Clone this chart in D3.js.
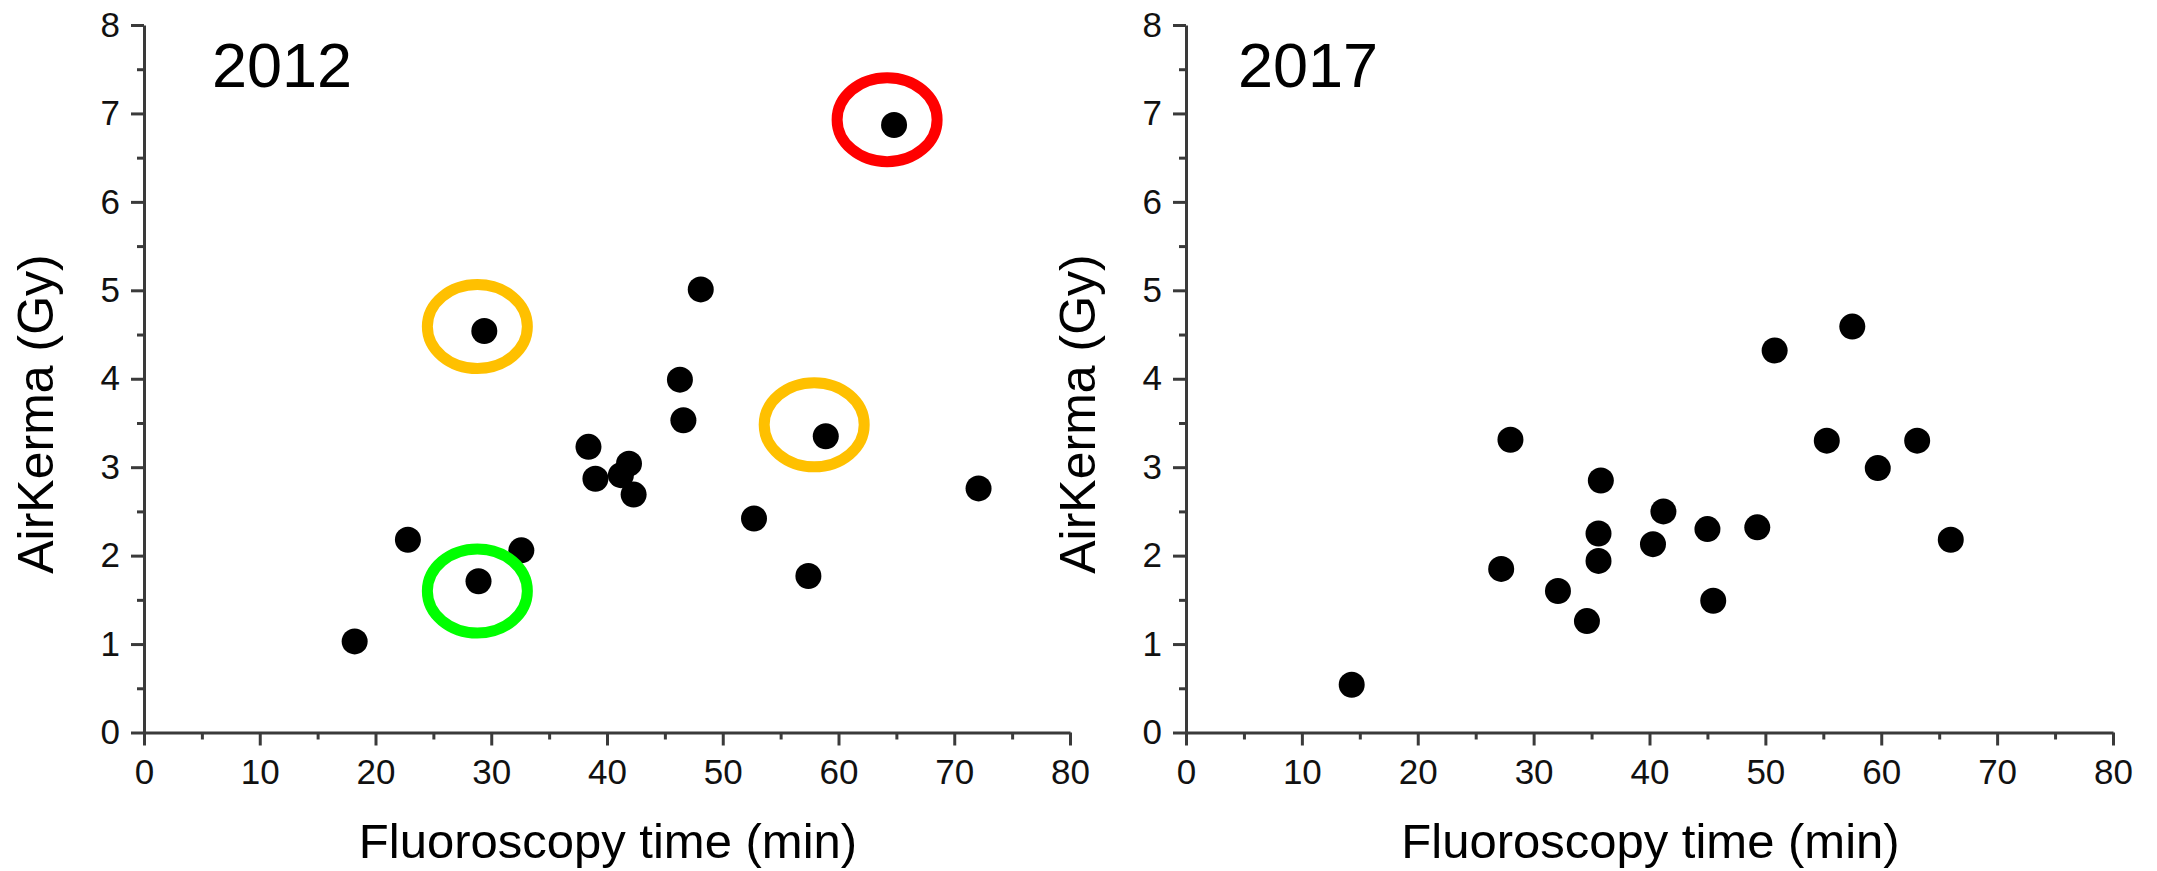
<!DOCTYPE html>
<html>
<head>
<meta charset="utf-8">
<script src="https://cdn.jsdelivr.net/npm/d3@7"></script>
<style>
  body { margin: 0; background: #fff; }
  svg { display: block; font-family: "Liberation Sans", Arial, sans-serif; }
  .axis path, .axis line { stroke: #3a3a3a; stroke-width: 3; }
</style>
</head>
<body>
<svg width="2157" height="871"></svg>
<script>
// 2012 cohort
var time2012  = [18.2, 22.8, 28.9, 29.4, 32.6, 38.4, 39.0, 41.2, 41.9, 42.3, 46.3, 46.6, 48.1, 52.7, 57.4, 58.9, 64.8, 72.1];
var kerma2012 = [1.03, 2.18, 1.71, 4.54, 2.06, 3.23, 2.87, 2.91, 3.04, 2.69, 3.99, 3.53, 5.01, 2.42, 1.77, 3.35, 6.87, 2.76];

// 2017 cohort
var time2017  = [14.3, 27.2, 28.0, 32.1, 34.6, 35.6, 35.6, 35.8, 40.3, 41.2, 45.0, 45.5, 49.3, 50.8, 55.3, 57.5, 59.7, 63.1, 66.0];
var kerma2017 = [0.54, 1.85, 3.31, 1.60, 1.26, 1.94, 2.25, 2.85, 2.13, 2.50, 2.30, 1.49, 2.32, 4.32, 3.30, 4.59, 2.99, 3.30, 2.18];

// circled cases in 2012
var markTime  = [28.8, 57.9, 28.8, 64.2];
var markKerma = [4.59, 3.48, 1.60, 6.93];
var markLevel = ["medium", "medium", "low", "high"];

var xTicks = [0, 10, 20, 30, 40, 50, 60, 70, 80];
var xMinor = [5, 15, 25, 35, 45, 55, 65, 75];
var yTicks = [0, 1, 2, 3, 4, 5, 6, 7, 8];
var yMinor = [0.5, 1.5, 2.5, 3.5, 4.5, 5.5, 6.5, 7.5];

var panels = [
    { year: "2012", time: time2012, kerma: kerma2012, left: 144, right: 1070, titleX: 68 },
    { year: "2017", time: time2017, kerma: kerma2017, left: 1186, right: 2113, titleX: 52 }
];

var svg = d3.select("svg"),
    plotTop = 25,
    plotBottom = 732.5;

var levelColor = d3.scaleOrdinal()
    .domain(["low", "medium", "high"])
    .range(["#00ff00", "#ffc000", "#ff0000"]);

function styleAxis(sel) {
    sel.attr("font-size", null).attr("font-family", null);
    sel.selectAll("text")
        .style("font-size", "35px")
        .style("font-family", "'Liberation Sans', Arial, sans-serif")
        .style("fill", "#111");
}

panels.forEach(function (p, idx) {
    var x = d3.scaleLinear().domain([0, 80]).range([p.left, p.right]);
    var y = d3.scaleLinear().domain([0, 8]).range([plotBottom, plotTop]);
    var g = svg.append("g");

    // minor ticks
    g.append("g")
        .attr("class", "axis")
        .attr("transform", "translate(0," + plotBottom + ")")
        .call(d3.axisBottom(x).tickValues(xMinor).tickSize(7).tickSizeOuter(0).tickFormat(""))
        .select(".domain").remove();

    g.append("g")
        .attr("class", "axis")
        .attr("transform", "translate(" + p.left + ",0)")
        .call(d3.axisLeft(y).tickValues(yMinor).tickSize(7).tickSizeOuter(0).tickFormat(""))
        .select(".domain").remove();

    g.append("g")
        .attr("class", "axis")
        .attr("transform", "translate(0," + plotBottom + ")")
        .call(d3.axisBottom(x).tickValues(xTicks).tickSize(13).tickSizeOuter(0).tickPadding(14))
        .call(styleAxis);

    g.append("g")
        .attr("class", "axis")
        .attr("transform", "translate(" + p.left + ",0)")
        .call(d3.axisLeft(y).tickValues(yTicks).tickSize(13).tickSizeOuter(0).tickPadding(11))
        .call(styleAxis);

    // axis titles
    g.append("text")
        .attr("x", (p.left + p.right) / 2 + 1)
        .attr("y", 858)
        .attr("text-anchor", "middle")
        .attr("font-size", 49)
        .text("Fluoroscopy time (min)");

    g.append("text")
        .attr("transform", "translate(" + (p.left - 91) + "," + 414 + ")rotate(-90)")
        .attr("text-anchor", "middle")
        .attr("font-size", 50)
        .text("AirKerma (Gy)");

    // year label
    g.append("text")
        .attr("x", p.left + p.titleX)
        .attr("y", 87)
        .attr("font-size", 63)
        .text(p.year);

    // points
    g.append("g")
        .selectAll("circle")
        .data(d3.range(p.time.length))
        .enter().append("circle")
        .attr("cx", function (i) { return x(p.time[i]); })
        .attr("cy", function (i) { return y(p.kerma[i]); })
        .attr("r", 13)
        .attr("fill", "#000");

    if (idx === 0) {
        g.append("g")
            .selectAll("ellipse")
            .data(d3.range(markTime.length))
            .enter().append("ellipse")
            .attr("cx", function (i) { return x(markTime[i]); })
            .attr("cy", function (i) { return y(markKerma[i]); })
            .attr("rx", 50)
            .attr("ry", 42)
            .attr("fill", "none")
            .attr("stroke", function (i) { return levelColor(markLevel[i]); })
            .attr("stroke-width", 11);
    }
});
</script>
</body>
</html>
